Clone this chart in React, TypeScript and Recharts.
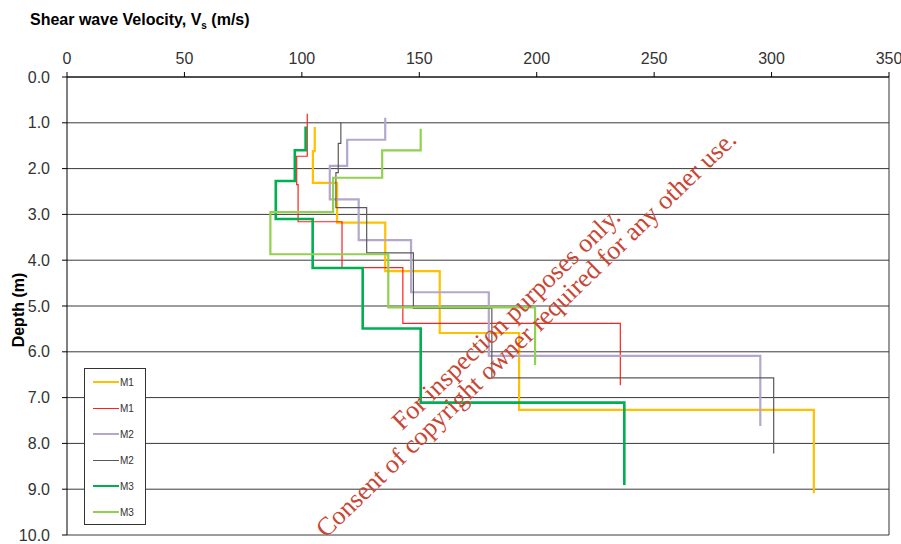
import React from "react";
import { ScatterChart, Scatter, XAxis, YAxis, CartesianGrid, ReferenceLine } from "recharts";

// velocity ticks (top axis) and depth ticks (left axis)
const velocityTicks = [0, 50, 100, 150, 200, 250, 300, 350];
const depthTicks = [0, 1, 2, 3, 4, 5, 6, 7, 8, 9, 10];

// each profile: layer velocities (m/s) and layer boundaries (m)
const m1aVs = [105.5, 104.7, 115.0, 135.5, 158.7, 192.5, 318.0];
const m1aDepth = [1.09, 1.62, 2.31, 3.18, 4.24, 5.59, 7.27, 9.09];

const m1bVs = [102.3, 97.8, 98.4, 117.1, 143.0, 235.6];
const m1bDepth = [0.8, 1.73, 2.35, 3.16, 4.16, 5.38, 6.73];

const m2aVs = [135.5, 119.3, 111.9, 124.2, 146.5, 179.6, 295.2];
const m2aDepth = [0.89, 1.37, 1.94, 2.67, 3.56, 4.7, 6.09, 7.62];

const m2bVs = [116.6, 115.5, 114.5, 127.6, 147.5, 180.9, 300.9];
const m2bDepth = [0.98, 1.45, 2.09, 2.85, 3.84, 5.05, 6.57, 8.22];

const m3aVs = [101.6, 97.0, 88.9, 104.6, 125.9, 150.6, 237.3];
const m3aDepth = [1.08, 1.6, 2.27, 3.1, 4.17, 5.49, 7.11, 8.91];

const m3bVs = [150.6, 134.2, 113.3, 86.6, 136.8, 199.3];
const m3bDepth = [1.13, 1.6, 2.2, 2.95, 3.87, 5.03, 6.29];

function toSteps(vs: number[], depth: number[]) {
  const pts: { v: number; d: number }[] = [];
  vs.forEach((v, i) => {
    pts.push({ v, d: depth[i] });
    pts.push({ v, d: depth[i + 1] });
  });
  return pts;
}

const series = [
  { name: "M1", color: "#FFC000", width: 2.2, data: toSteps(m1aVs, m1aDepth) },
  { name: "M1", color: "#FF2020", width: 1.2, data: toSteps(m1bVs, m1bDepth) },
  { name: "M2", color: "#B3A7CB", width: 2.2, data: toSteps(m2aVs, m2aDepth) },
  { name: "M2", color: "#5A5A5A", width: 1.2, data: toSteps(m2bVs, m2bDepth) },
  { name: "M3", color: "#00B050", width: 2.6, data: toSteps(m3aVs, m3aDepth) },
  { name: "M3", color: "#92D050", width: 2.2, data: toSteps(m3bVs, m3bDepth) },
];

const noDot = () => <g />;

function LegendBox() {
  return (
    <div
      style={{
        position: "absolute",
        left: 84,
        top: 368,
        width: 60,
        height: 155,
        background: "#fff",
        border: "1px solid #333",
      }}
    >
      {series.map((s, i) => (
        <div key={i} style={{ display: "flex", alignItems: "center", height: 26, paddingLeft: 8 }}>
          <div style={{ width: 26, height: 0, borderTop: `${s.width > 2 ? 2 : 1}px solid ${s.color}` }} />
          <span style={{ fontSize: 10, color: "#333", marginLeft: 1 }}>{s.name}</span>
        </div>
      ))}
    </div>
  );
}

export default function App() {
  return (
    <div style={{ position: "absolute", left: 0, top: 0, width: 901, height: 544, background: "#fff", fontFamily: "'Liberation Sans', Arial, sans-serif" }}>
      <ScatterChart width={901} height={544} margin={{ top: 47, right: 12, bottom: 9, left: 17 }}>
        <CartesianGrid horizontal vertical={false} stroke="#3a3a3a" />
        <XAxis
          type="number"
          dataKey="v"
          orientation="top"
          domain={[0, 350]}
          ticks={velocityTicks}
          height={30}
          tickSize={5}
          tickMargin={8}
          stroke="#000"
          tick={{ fontSize: 16, fill: "#333" }}
        />
        <YAxis
          type="number"
          dataKey="d"
          reversed
          domain={[0, 10]}
          ticks={depthTicks}
          width={50}
          tickSize={5}
          tickMargin={12}
          stroke="#000"
          tickFormatter={(t: number) => t.toFixed(1)}
          tick={{ fontSize: 16, fill: "#333" }}
        />
        <ReferenceLine x={350} stroke="#333" />
        {series.map((s, i) => (
          <Scatter
            key={i}
            name={s.name}
            data={s.data}
            fill={s.color}
            line={{ stroke: s.color, strokeWidth: s.width }}
            lineType="joint"
            shape={noDot}
            isAnimationActive={false}
          />
        ))}
      </ScatterChart>
      <LegendBox />
      <svg width={901} height={544} style={{ position: "absolute", left: 0, top: 0, pointerEvents: "none" }}>
        <text x={30} y={25} fontSize={16} fontWeight="bold" fill="#000">
          Shear wave Velocity, V<tspan fontSize={10} dy={4}>s</tspan>
          <tspan dy={-4}> (m/s)</tspan>
        </text>
        <text x={24} y={310} fontSize={16} fontWeight="bold" fill="#000" textAnchor="middle" transform="rotate(-90 24 310)">
          Depth (m)
        </text>
        <g fill="#C84634" fontFamily="'Liberation Serif', 'Times New Roman', serif" fontSize={26}>
          <text x={512} y={325} textAnchor="middle" transform="rotate(-44 512 325)">
            For inspection purposes only.
          </text>
          <text x={532} y={340} textAnchor="middle" transform="rotate(-44 532 340)">
            Consent of copyright owner required for any other use.
          </text>
        </g>
      </svg>
    </div>
  );
}
